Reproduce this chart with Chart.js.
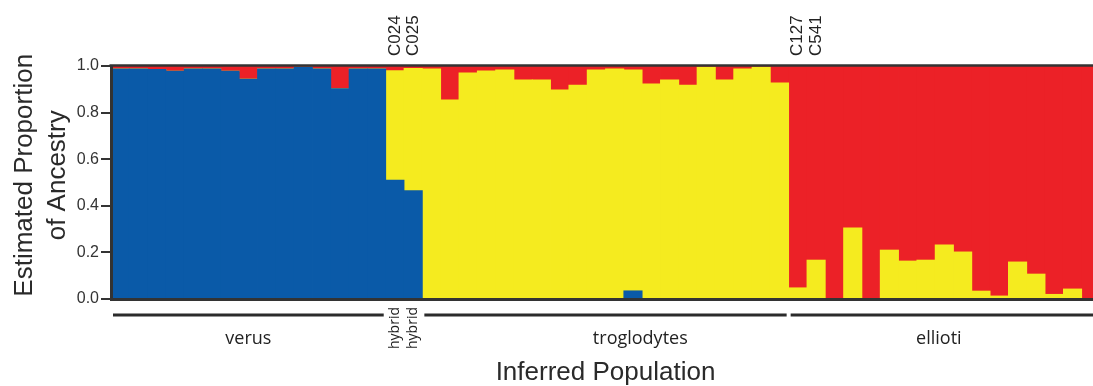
<!DOCTYPE html>
<html>
<head>
<meta charset="utf-8">
<title>Estimated Proportion of Ancestry</title>
<script src="https://cdn.jsdelivr.net/npm/chart.js@4.4.1/dist/chart.umd.min.js"></script>
<style>
  html, body { margin: 0; padding: 0; background: #fff; overflow: hidden; }
  #wrap { position: relative; width: 1100px; height: 386px; }
</style>
</head>
<body>
<div id="wrap"><canvas id="myChart"></canvas></div>
<script>
// populations et nombre d'individus
const populations = ['verus', 'hybrid', 'troglodytes', 'ellioti'];
const popSizes = [15, 2, 20, 17];

// individus nommés au-dessus du graphique
const taggedNames = ['C024', 'C025', 'C127', 'C541'];
const taggedIndex = [15, 16, 37, 38];

// ticks de l'axe y
const yTicks = [0, 0.2, 0.4, 0.6, 0.8, 1.0];

// proportions d'ascendance (bleu / jaune / rouge) par individu
const blueShare = [
    0.988, 0.988, 0.985, 0.978, 0.988, 0.988, 0.978, 0.944, 0.988, 0.988, 0.995, 0.988, 0.903, 0.988, 0.988,
    0.51, 0.465,
    0, 0, 0, 0, 0, 0, 0, 0, 0, 0, 0, 0.035, 0, 0, 0, 0, 0, 0, 0, 0,
    0, 0, 0, 0, 0, 0, 0, 0, 0, 0, 0, 0, 0, 0, 0, 0, 0
];
const yellowShare = [
    0, 0, 0, 0, 0, 0, 0, 0, 0, 0, 0, 0, 0, 0, 0,
    0.47, 0.525,
    0.988, 0.854, 0.97, 0.979, 0.983, 0.94, 0.94, 0.897, 0.918, 0.983, 0.988, 0.948, 0.923, 0.94, 0.918, 0.995, 0.94, 0.988, 0.995, 0.927,
    0.048, 0.167, 0, 0.305, 0, 0.21, 0.163, 0.167, 0.232, 0.202, 0.034, 0.013, 0.159, 0.107, 0.02, 0.043, 0
];
const redShare = [
    0.012, 0.012, 0.015, 0.022, 0.012, 0.012, 0.022, 0.056, 0.012, 0.012, 0.005, 0.012, 0.097, 0.012, 0.012,
    0.02, 0.01,
    0.012, 0.146, 0.03, 0.021, 0.017, 0.06, 0.06, 0.103, 0.082, 0.017, 0.012, 0.017, 0.077, 0.06, 0.082, 0.005, 0.06, 0.012, 0.005, 0.073,
    0.952, 0.833, 1, 0.695, 1, 0.79, 0.837, 0.833, 0.768, 0.798, 0.966, 0.987, 0.841, 0.893, 0.98, 0.957, 1
];

// étiquettes : population de chaque individu
var labels = [];
populations.forEach(function(p, g) {
    for (var k = 0; k < popSizes[g]; k++) labels.push(p);
});

// position des noms de groupes (en index de barre)
const groupLabelAt = [7, null, 28.4, 44.7];

const sansFont = '"Liberation Sans", Arial, sans-serif';

// annotations : cadre, noms, lignes de groupes
const annotations = {
    id: 'annotations',
    afterDraw: function(chart) {
        const ctx = chart.ctx;
        const x = chart.scales.x;
        const area = chart.chartArea;
        const w = x.getPixelForValue(1) - x.getPixelForValue(0);

        ctx.save();
        // ligne du haut
        ctx.strokeStyle = '#333';
        ctx.lineWidth = 2.5;
        ctx.beginPath();
        ctx.moveTo(area.left - 1.5, area.top - 0.5);
        ctx.lineTo(area.right, area.top - 0.5);
        ctx.stroke();

        // noms des individus
        ctx.fillStyle = '#222';
        ctx.font = '17px ' + sansFont;
        ctx.textAlign = 'left';
        ctx.textBaseline = 'middle';
        taggedIndex.forEach(function(idx, i) {
            ctx.save();
            ctx.translate(x.getPixelForValue(idx), area.top - 10);
            ctx.rotate(-Math.PI / 2);
            ctx.fillText(taggedNames[i], 0, 0);
            ctx.restore();
        });

        // groupes
        var start = 0;
        ctx.lineWidth = 3;
        ctx.strokeStyle = '#2b2b2b';
        popSizes.forEach(function(n, g) {
            const left = x.getPixelForValue(start) - w / 2;
            const right = x.getPixelForValue(start + n - 1) + w / 2;
            if (populations[g] === 'hybrid') {
                ctx.font = '14px "Open Sans", sans-serif';
                ctx.textAlign = 'right';
                ctx.textBaseline = 'middle';
                for (var k = start; k < start + n; k++) {
                    ctx.save();
                    ctx.translate(x.getPixelForValue(k), area.bottom + 8);
                    ctx.rotate(-Math.PI / 2);
                    ctx.fillText(populations[g], 0, 0);
                    ctx.restore();
                }
            } else {
                ctx.beginPath();
                ctx.moveTo(left + 2, area.bottom + 16);
                ctx.lineTo(right - 2, area.bottom + 16);
                ctx.stroke();
                ctx.font = '18px "Open Sans", sans-serif';
                ctx.textAlign = 'center';
                ctx.textBaseline = 'alphabetic';
                ctx.fillText(populations[g], x.getPixelForValue(groupLabelAt[g]), area.bottom + 45);
            }
            start += n;
        });
        ctx.restore();
    }
};

// graphique
var ctx = document.getElementById('myChart').getContext('2d');
var myChart = new Chart(ctx, {
    type: 'bar',
    data: {
        labels: labels,
        datasets: [
            { label: 'blue', data: blueShare, backgroundColor: '#0a5aa8' },
            { label: 'yellow', data: yellowShare, backgroundColor: '#f5eb1f' },
            { label: 'red', data: redShare, backgroundColor: '#ec2127' }
        ]
    },
    options: {
        responsive: true,
        maintainAspectRatio: false,
        animation: false,
        layout: { padding: { top: 66, left: 0, right: 0, bottom: 0 } },
        datasets: {
            bar: {
                barPercentage: 1,
                categoryPercentage: 1,
                borderWidth: 0,
                inflateAmount: 0.4
            }
        },
        plugins: {
            legend: { display: false },
            tooltip: { enabled: false }
        },
        scales: {
            x: {
                stacked: true,
                grid: { display: false },
                ticks: { display: false },
                border: { display: true, color: '#333', width: 3, z: 1 },
                title: {
                    display: true,
                    text: 'Inferred Population',
                    color: '#2a2a2a',
                    font: { family: sansFont, size: 26, lineHeight: 1 },
                    padding: { top: 0, bottom: 0 }
                },
                afterFit: function(scale) { scale.height = 87; }
            },
            y: {
                stacked: true,
                min: 0,
                max: 1,
                afterBuildTicks: function(scale) {
                    scale.ticks = yTicks.map(function(v) { return { value: v }; });
                },
                ticks: {
                    padding: 2,
                    color: '#333',
                    font: { family: sansFont, size: 16 },
                    callback: function(v) { return Number(v).toFixed(1); }
                },
                grid: { drawOnChartArea: false, drawTicks: true, tickLength: 10, color: '#333', lineWidth: 2 },
                border: { display: true, color: '#333', width: 3, z: 1 },
                title: {
                    display: true,
                    text: ['  Estimated Proportion', '  of Ancestry'],
                    color: '#2a2a2a',
                    font: { family: sansFont, size: 26, lineHeight: 1.28 },
                    padding: { top: 8, bottom: 0 }
                },
                afterFit: function(scale) { scale.width = 111; }
            }
        }
    },
    plugins: [annotations]
});
</script>
</body>
</html>
